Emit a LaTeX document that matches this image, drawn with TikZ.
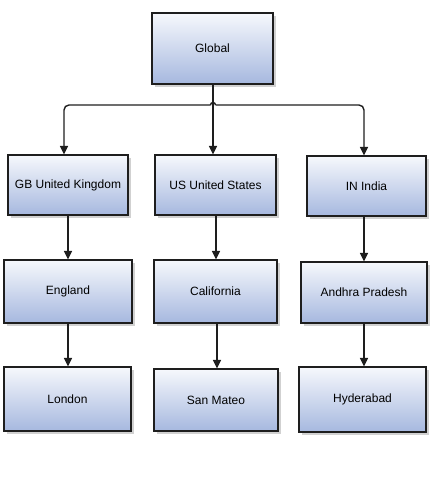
\documentclass[tikz,border=0pt]{standalone}
\usepackage{fontspec}
\setmainfont{Liberation Sans}
\usetikzlibrary{arrows.meta,shadows}
\definecolor{boxtop}{HTML}{F6F8FC}
\definecolor{boxbot}{HTML}{A6B8DF}
\definecolor{edge}{HTML}{1E1E1E}
\tikzset{
  orgbox/.style={draw=edge, line width=1.1pt, top color=boxtop, bottom color=boxbot,
    inner sep=0pt, anchor=center, font=\fontsize{12}{14}\selectfont,
    drop shadow={shadow xshift=3pt, shadow yshift=-3pt, fill=black!30, opacity=0.6}},
  conn/.style={draw=edge, line width=1.4pt},
  arr/.style={conn, -{Triangle[width=8pt,length=8.5pt]}},
}
\begin{document}
\begin{tikzpicture}[x=1pt,y=-1pt]
\useasboundingbox (0,0) rectangle (433,479);
\node[orgbox, minimum width=121pt, minimum height=71pt] (global) at (212.5,48.5) {Global};
\node[orgbox, minimum width=120pt, minimum height=60pt] (gb) at (68,185) {GB United Kingdom};
\node[orgbox, minimum width=121pt, minimum height=60pt] (us) at (215.5,185) {US United States};
\node[orgbox, minimum width=119pt, minimum height=60pt] (in) at (366.5,186) {IN India};
\node[orgbox, minimum width=128pt, minimum height=63pt] (eng) at (68,291.5) {England};
\node[orgbox, minimum width=123pt, minimum height=63pt] (cal) at (215.5,291.5) {California};
\node[orgbox, minimum width=126pt, minimum height=61pt] (ap) at (364,292.5) {Andhra Pradesh};
\node[orgbox, minimum width=127pt, minimum height=64pt] (lon) at (67.5,399) {London};
\node[orgbox, minimum width=124pt, minimum height=62pt] (sm) at (216,400) {San Mateo};
\node[orgbox, minimum width=127pt, minimum height=65pt] (hyd) at (362.5,399.5) {Hyderabad};
\coordinate (hopL) at (210.5,105);
\coordinate (hopR) at (215.5,105);
\draw[arr] ([xshift=0.5pt]global.south) coordinate (gS) -- (gS |- us.north);
\draw[arr, rounded corners=5pt] (hopL) -| ([xshift=-4pt]gb.north);
\draw[arr, rounded corners=5pt] (hopR) -| ([xshift=-2.5pt]in.north);
\draw[conn] (hopL) arc[start angle=180, end angle=0, radius=2.5pt];
\draw[arr] (gb.south) -- (gb.south |- eng.north);
\draw[arr] ([xshift=0.5pt]us.south) coordinate (uS) -- (uS |- cal.north);
\draw[arr] ([xshift=-2.5pt]in.south) coordinate (inS) -- (inS |- ap.north);
\draw[arr] (eng.south) -- (eng.south |- lon.north);
\draw[arr] ([xshift=1.5pt]cal.south) coordinate (cS) -- (cS |- sm.north);
\draw[arr] (ap.south) -- (ap.south |- hyd.north);
\end{tikzpicture}
\end{document}
